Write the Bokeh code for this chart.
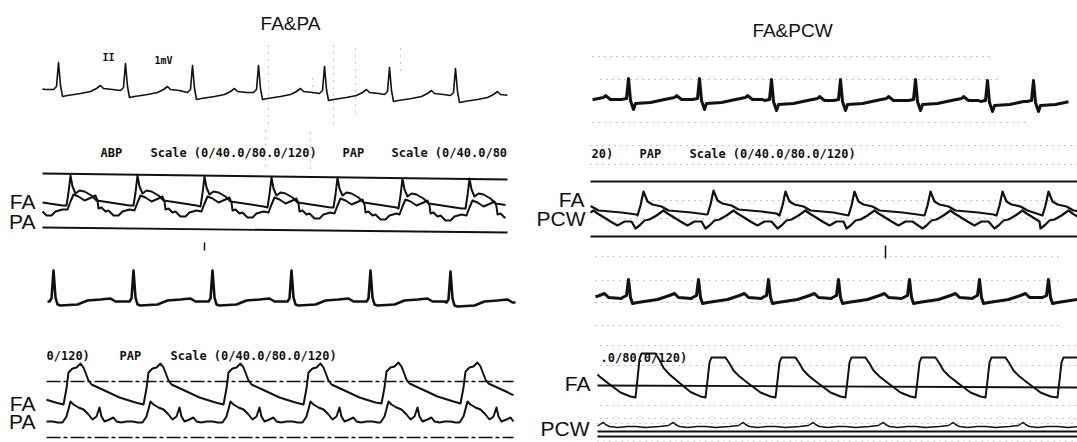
import numpy as np
from bokeh.plotting import figure
from bokeh.models import Range1d
from bokeh.embed import file_html
from bokeh.resources import INLINE
from bokeh.core.properties import value

# ---------------- data (page-pixel units) ----------------
# Left panel, row 1: ECG lead II
L1_R = [58, 125, 192, 258, 324, 389, 455]
L1_BASE = [89, 90, 92, 92, 93, 94, 95]
L1_DX = [-5, -2, 0, 2, 4, 9, 22, 32, 38, 42, 45, 54]
L1_DY = [0, -3, -27, -4, 7, 6, 4, 2, -1, -4, -1, 0]
L1_SPAN = [42, 507]

# Left panel, row 2: FA (arterial) and PA pressure
L2_PEAK = [70, 137, 204, 271, 337, 402, 469]
L2_FA_BASE = [205, 205, 206, 207, 207, 208, 208]
L2_FA_DX = [-4, -2, 0, 2, 5, 9, 14, 21, 26, 33, 59]
L2_FA_DY = [0, -13, -30, -19, -12, -15, -14, -10, -5, -4, 0]
L2_PA_BASE = [210, 211, 212, 213, 214, 215, 216]
L2_PA_DX = [-3, 0, 3, 8, 14, 21, 25, 27, 28, 31, 35, 38, 43, 48, 52, 59]
L2_PA_DY = [-1, -9, -16, -14, -10, -13, -15, -10, -2, -3, 1, 0, 5, 5, 1, -1]
L2_SPAN = [42, 505]

# Left panel, row 3: ECG lead I
L3_R = [53, 133, 212, 291, 370, 450]
L3_BASE = [301, 301, 301, 301, 301, 302]
L3_DX = [-4, -2, 0, 2, 4, 7, 24, 34, 47, 57, 62, 74]
L3_DY = [0, -3, -31, -4, 3, 4, 3, -1, -2, -3, 0, 0]
L3_SPAN = [47, 515]

# Left panel, row 4: FA and PA pressure
L4_ON = [63, 143, 223, 303, 381, 460]
L4_FA_BASE = [404, 404, 404, 404, 403, 403]
L4_FA_DX = [0, 3, 5, 9, 13, 17, 20, 25, 28, 41, 56, 72]
L4_FA_DY = [0, -16, -32, -36, -37, -41, -37, -24, -20, -14, -7, -2]
L4_PA_BASE = [422, 422, 422, 422, 422, 422]
L4_PA_DX = [-1, 3, 7, 10, 15, 20, 25, 29, 33, 36, 38, 41, 46, 50, 53, 58, 63, 69, 74]
L4_PA_DY = [0, -6, -21, -18, -15, -13, -8, -3, -6, -15, -6, -1, -3, -5, -1, 0, -1, -1, 0]
L4_SPAN = [46, 513]

# Right panel, row 1: ECG
R1_R = [628, 699, 771, 840, 915, 987, 1033]
R1_BASE = [99, 99, 100, 100, 100, 101, 101]
R1_DX = [-7, -2, 0, 2, 5, 7, 22, 36, 46, 48, 53, 63]
R1_DY = [0, -1, -21, 1, 10, 4, 3, 0, -2, -4, 0, 0]
R1_SPAN = [592, 1068]

# Right panel, row 2: FA and PCW pressure
R2_PEAK = [643, 713, 785, 854, 930, 1002, 1048]
R2_FA_BASE = [215, 214, 215, 215, 215, 215, 215]
R2_FA_DX = [-6, -3, 0, 4, 9, 18, 25, 48, 63]
R2_FA_DY = [0, -10, -24, -14, -11, -9, -5, -3, -1]
R2_PCW_BASE = [225, 225, 225, 225, 225, 225, 225]
R2_PCW_DX = [-8, -4, 1, 6, 13, 20, 24, 29, 37, 44, 51, 58]
R2_PCW_DY = [3, 0, -5, -6, -10, -15, -12, -9, -4, 0, -4, -4]
R2_SPAN = [590, 1077]

# Right panel, row 3: ECG
R3_R = [628, 698, 768, 838, 909, 979, 1048]
R3_BASE = [297, 297, 297, 297, 297, 297, 297]
R3_DX = [-6, -2, 0, 2, 4, 9, 29, 41, 46, 50, 63]
R3_DY = [0, -2, -18, 0, 6, 5, 2, -2, -4, 0, 1]
R3_SPAN = [595, 1077]

# Right panel, row 4: FA and PCW pressure
R4_TR = [635, 705, 775, 845, 915, 985, 1057]
R4_FA_BASE = [397, 397, 397, 397, 397, 397, 397]
R4_FA_AMP = [1.1, 1, 1, 1, 1, 1, 1]
R4_FA_DX = [0, 2, 4, 6, 20, 24, 28, 34, 43, 55, 65]
R4_FA_DY = [0, -17, -35, -40, -40, -34, -27, -21, -14, -5, -1]
R4_PCW_BASE = [426, 426, 426, 426, 426, 426, 426]
R4_PCW_DX = [0, 10, 24, 33, 36, 38, 40, 44, 52, 62]
R4_PCW_DY = [0, 1, 0, -1, -3, -4, -2, 0, 1, 0]
R4_SPAN = [597, 1077]

# Reference rules: x0, y0, x1, y1
SOLID_RULES = [(42, 173, 507, 179), (42, 227, 507, 232),
               (590, 181, 1077, 181), (590, 236, 1077, 236),
               (597, 385, 1077, 387), (597, 431, 1077, 431), (597, 436, 1077, 436)]
DASHED_RULES = [(46, 381, 513, 381), (46, 437, 513, 437)]
DOTTED_H = [(592, 56, 990), (600, 79, 1000), (592, 122, 1030), (590, 145, 1077),
            (590, 164, 1077), (640, 200, 1060), (600, 218, 1060), (595, 256, 1060),
            (595, 280, 1060), (595, 302, 1060), (595, 325, 1060), (600, 345, 1077),
            (600, 365, 1077), (600, 405, 1077), (600, 418, 1077), (597, 423, 1077),
            (597, 441, 1077)]
DOTTED_V = [(268, 45, 125), (333, 45, 125), (355, 48, 118), (312, 78, 95),
            (265, 130, 168), (310, 132, 170), (400, 48, 72)]
TICKS = [(204, 242, 250), (885, 245, 258)]

TITLES = ["FA&PA", "FA&PCW"]
TITLE_X = [290, 792]
TITLE_Y = [23, 30]

BIG = ["FA", "PA", "FA", "PA", "FA", "PCW", "FA", "PCW"]
BIG_X = [35, 35, 35, 35, 584, 585, 590, 589]
BIG_Y = [201, 221, 403, 421, 199, 218, 383, 428]

MONO = ["ABP", "Scale (0/40.0/80.0/120)", "PAP", "Scale (0/40.0/80",
        "0/120)", "PAP", "Scale (0/40.0/80.0/120)",
        "20)", "PAP", "Scale (0/40.0/80.0/120)", ".0/80.0/120)"]
MONO_X = [100, 150, 342, 391, 46, 119, 170, 591, 639, 689, 600]
MONO_Y = [152, 152, 152, 152, 355, 355, 355, 153, 153, 153, 357]

SMALL = ["II", "1mV"]
SMALL_X = [108, 163]
SMALL_Y = [57, 60]


def build(beats, bases, tdx, tdy, span, amps=None):
    beats = list(beats)
    bases = list(bases)
    amps = [1.0] * len(beats) if amps is None else list(amps)
    # preceding beat (partly visible at the left edge)
    beats = [beats[0] - (beats[1] - beats[0])] + beats
    bases = [bases[0]] + bases
    amps = [1.0] + amps
    xs, ys = [], []
    n = len(beats)
    for i, b in enumerate(beats):
        lim = beats[i + 1] + tdx[0] if i + 1 < n else np.inf
        for dx, dy in zip(tdx, tdy):
            if b + dx < lim:
                xs.append(b + dx)
                ys.append(bases[i] + amps[i] * dy)
    xs = np.array(xs, float)
    ys = np.array(ys, float)
    x0, x1 = span
    keep = (xs > x0) & (xs < x1)
    return (np.r_[x0, xs[keep], x1],
            np.r_[np.interp(x0, xs, ys), ys[keep], np.interp(x1, xs, ys)])


p = figure(width=1077, height=442, x_range=Range1d(0, 1077), y_range=Range1d(442, 0),
           output_backend="svg", toolbar_location=None, x_axis_type=None,
           y_axis_type=None, min_border=0)
p.outline_line_color = None
p.background_fill_color = "white"
p.border_fill_color = "white"

INK = "#111111"

# faint dotted scan rows
for x0, y, x1 in DOTTED_H:
    p.line([x0, x1], [y, y], line_color="#777777", line_width=1, line_dash="1 5", line_alpha=0.8)
for x, y0, y1 in DOTTED_V:
    p.line([x, x], [y0, y1], line_color="#777777", line_width=1, line_dash="1 6", line_alpha=0.8)

for x0, y0, x1, y1 in SOLID_RULES:
    p.line([x0, x1], [y0, y1], line_color=INK, line_width=1.8)
for x0, y0, x1, y1 in DASHED_RULES:
    p.line([x0, x1], [y0, y1], line_color=INK, line_width=1.6, line_dash="14 3 4 3")
for x, y0, y1 in TICKS:
    p.line([x, x], [y0, y1], line_color=INK, line_width=1.5)

traces = [
    (build(L1_R, L1_BASE, L1_DX, L1_DY, L1_SPAN), 1.6),
    (build(L2_PEAK, L2_FA_BASE, L2_FA_DX, L2_FA_DY, L2_SPAN), 2.0),
    (build(L2_PEAK, L2_PA_BASE, L2_PA_DX, L2_PA_DY, L2_SPAN), 2.0),
    (build(L3_R, L3_BASE, L3_DX, L3_DY, L3_SPAN), 2.6),
    (build(L4_ON, L4_FA_BASE, L4_FA_DX, L4_FA_DY, L4_SPAN), 2.0),
    (build(L4_ON, L4_PA_BASE, L4_PA_DX, L4_PA_DY, L4_SPAN), 2.0),
    (build(R1_R, R1_BASE, R1_DX, R1_DY, R1_SPAN), 3.0),
    (build(R2_PEAK, R2_FA_BASE, R2_FA_DX, R2_FA_DY, R2_SPAN), 2.2),
    (build(R2_PEAK, R2_PCW_BASE, R2_PCW_DX, R2_PCW_DY, R2_SPAN), 2.2),
    (build(R3_R, R3_BASE, R3_DX, R3_DY, R3_SPAN), 3.0),
    (build(R4_TR, R4_FA_BASE, R4_FA_DX, R4_FA_DY, R4_SPAN, R4_FA_AMP), 2.0),
    (build(R4_TR, R4_PCW_BASE, R4_PCW_DX, R4_PCW_DY, R4_SPAN), 1.4),
]
for (xs, ys), w in traces:
    p.line(xs, ys, line_color=INK, line_width=w, line_join="round")

p.text(x=TITLE_X, y=TITLE_Y, text=TITLES, text_font=value("Liberation Sans"),
       text_font_size="19px", text_align="center", text_baseline="middle", text_color=INK)
p.text(x=BIG_X, y=BIG_Y, text=BIG, text_font=value("Liberation Sans"),
       text_font_size="21px", text_align="right", text_baseline="middle", text_color=INK)
p.text(x=MONO_X, y=MONO_Y, text=MONO, text_font=value("DejaVu Sans Mono"),
       text_font_size="12px", text_font_style="bold", text_align="left",
       text_baseline="middle", text_color=INK)
p.text(x=SMALL_X, y=SMALL_Y, text=SMALL, text_font=value("DejaVu Sans Mono"),
       text_font_size="10px", text_font_style="bold", text_align="center",
       text_baseline="middle", text_color=INK)

open("out.html", "w").write(file_html(p, INLINE))
